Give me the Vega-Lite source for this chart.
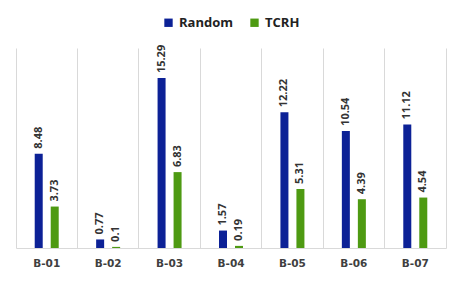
{
  "$schema": "https://vega.github.io/schema/vega-lite/v6.json",
  "width": 430,
  "height": 200,
  "autosize": "none",
  "padding": {"left": 16, "top": 48, "right": 17, "bottom": 34},
  "background": "white",
  "data": {
    "values": [
      {"batch": "B-01", "method": "Random", "value": 8.48},
      {"batch": "B-01", "method": "TCRH", "value": 3.73},
      {"batch": "B-02", "method": "Random", "value": 0.77},
      {"batch": "B-02", "method": "TCRH", "value": 0.1},
      {"batch": "B-03", "method": "Random", "value": 15.29},
      {"batch": "B-03", "method": "TCRH", "value": 6.83},
      {"batch": "B-04", "method": "Random", "value": 1.57},
      {"batch": "B-04", "method": "TCRH", "value": 0.19},
      {"batch": "B-05", "method": "Random", "value": 12.22},
      {"batch": "B-05", "method": "TCRH", "value": 5.31},
      {"batch": "B-06", "method": "Random", "value": 10.54},
      {"batch": "B-06", "method": "TCRH", "value": 4.39},
      {"batch": "B-07", "method": "Random", "value": 11.12},
      {"batch": "B-07", "method": "TCRH", "value": 4.54}
    ]
  },
  "encoding": {
    "x": {
      "field": "batch", "type": "nominal", "title": null,
      "scale": {"paddingInner": 0, "paddingOuter": 0},
      "axis": {
        "labelAngle": 0, "labelFont": "DejaVu Sans", "labelFontWeight": "bold",
        "labelFontSize": 10.5, "labelColor": "#404040", "labelPadding": 10,
        "ticks": false, "domainColor": "#d9d9d9", "grid": true,
        "gridColor": "#d9d9d9", "bandPosition": 0
      }
    },
    "xOffset": {
      "field": "method", "type": "nominal",
      "scale": {"paddingInner": 0, "paddingOuter": 0.92}
    },
    "y": {
      "field": "value", "type": "quantitative", "title": null,
      "scale": {"domain": [0, 18], "nice": false},
      "axis": {"orient": "right", "labels": false, "ticks": false, "grid": false, "domainColor": "#d9d9d9", "title": null}
    }
  },
  "layer": [
    {
      "mark": {"type": "bar", "width": 8},
      "encoding": {
        "color": {
          "field": "method", "type": "nominal", "title": null,
          "scale": {"domain": ["Random", "TCRH"], "range": ["#0c2196", "#4e9a12"]},
          "legend": {
            "orient": "top", "direction": "horizontal",
            "symbolType": "square", "symbolSize": 70, "symbolStrokeWidth": 0,
            "labelFont": "Open Sans", "labelFontWeight": "bold", "labelFontSize": 13,
            "labelColor": "#222222", "columnPadding": 14, "offset": 18, "labelOffset": 4
          }
        }
      }
    },
    {
      "mark": {
        "type": "text", "angle": -90, "align": "left", "baseline": "middle",
        "dx": 5, "font": "Open Sans", "fontWeight": "bold", "fontSize": 11,
        "color": "#333333"
      },
      "encoding": {"text": {"field": "value", "type": "quantitative"}}
    }
  ],
  "config": {
    "view": {"stroke": null},
    "legend": {"layout": {"top": {"anchor": "middle"}}}
  }
}
